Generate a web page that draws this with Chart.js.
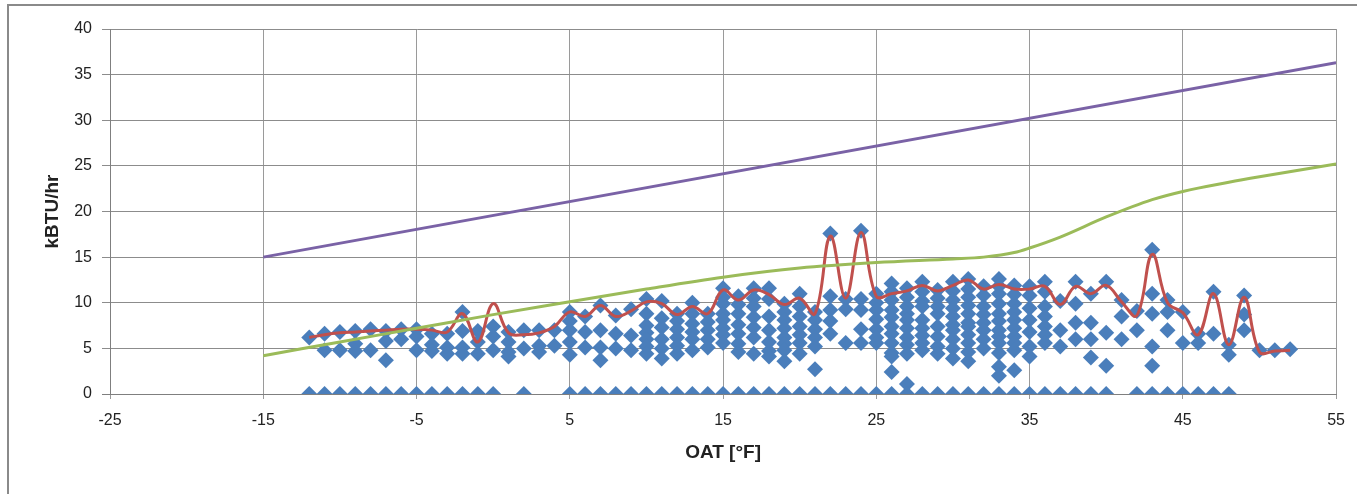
<!DOCTYPE html>
<html>
<head>
<meta charset="utf-8">
<script src="https://cdn.jsdelivr.net/npm/chart.js@4"></script>
<style>
    html, body { margin: 0; padding: 0; background: #ffffff; overflow: hidden; }
    #wrap { position: relative; width: 1357px; height: 494px; }
    #frame { position: absolute; left: 7px; top: 4px; width: 1400px; height: 600px;
             border-left: 2px solid #8a8a8a; border-top: 2px solid #8a8a8a; pointer-events: none; }
</style>
</head>
<body>
<div id="wrap">
    <canvas id="idChartLoad" width="1357" height="494"></canvas>
    <div id="frame"></div>
</div>
<script>
// measured points, one column of loads per outdoor temperature
const aColOat = [-12, -11, -10, -9, -8, -7, -6, -5, -4, -3, -2, -1, 0, 1, 2, 3, 4, 5, 6, 7, 8, 9, 10,
    11, 12, 13, 14, 15, 16, 17, 18, 19, 20, 21, 22, 23, 24, 25, 26, 27, 28, 29, 30, 31, 32, 33, 34,
    35, 36, 37, 38, 39, 40, 41, 42, 43, 44, 45, 46, 47, 48, 49, 50, 51, 52];
const aColLoads = [
    [6.2], [6.6, 4.8], [6.8, 4.8], [6.9, 5.5, 4.7], [7.1, 4.8], [6.9, 5.8, 3.7], [7.1, 6.0],
    [7.1, 6.3, 4.8], [6.6, 5.4, 4.7], [6.6, 5.1, 4.4], [9.0, 6.9, 5.1, 4.4], [6.9, 5.7, 4.4],
    [7.4, 6.3, 4.8], [6.8, 5.7, 4.6, 4.1], [7.0, 5.0], [7.0, 5.3, 4.6], [7.0, 5.3],
    [9.0, 8.0, 7.0, 5.7, 4.3], [8.5, 6.8, 5.1], [9.7, 7.0, 5.1, 3.7], [8.6, 6.6, 5.0],
    [9.3, 6.4, 4.8], [10.4, 8.8, 7.5, 6.7, 6.0, 5.2, 4.4], [10.2, 8.3, 7.3, 6.0, 5.0, 3.9],
    [8.8, 8.0, 7.1, 6.2, 5.3, 4.4], [10.0, 8.8, 7.7, 6.8, 6.0, 4.8], [8.8, 7.9, 7.0, 6.0, 5.1],
    [11.6, 10.6, 9.9, 8.8, 8.1, 7.2, 6.5, 5.6], [10.7, 9.8, 8.8, 7.6, 6.6, 5.5, 4.6],
    [11.6, 10.5, 9.6, 8.4, 7.3, 6.2, 4.4], [11.6, 10.4, 8.5, 7.0, 5.7, 4.7, 4.1],
    [9.9, 9.0, 8.1, 7.2, 6.2, 5.5, 4.8, 3.6], [11.0, 9.6, 8.5, 7.4, 6.5, 5.6, 4.4],
    [9.0, 8.1, 7.1, 6.2, 5.2, 2.7], [17.6, 10.7, 9.2, 8.0, 6.6], [10.4, 9.3, 5.6],
    [17.9, 10.4, 9.2, 7.1, 5.6], [11.0, 10.0, 9.2, 8.2, 7.1, 6.2, 5.6],
    [12.1, 11.2, 10.3, 9.2, 8.4, 7.4, 6.6, 5.6, 4.5, 4.1, 2.4],
    [11.6, 10.6, 9.6, 8.8, 8.1, 7.2, 6.2, 5.4, 4.4, 1.1],
    [12.3, 11.2, 10.2, 9.6, 8.1, 7.2, 6.4, 5.6, 4.8],
    [11.4, 10.5, 9.6, 8.8, 7.4, 6.3, 5.2, 4.4],
    [12.3, 11.3, 10.3, 9.4, 8.5, 7.6, 7.0, 6.0, 5.0, 3.9],
    [12.6, 11.5, 10.6, 9.7, 8.8, 7.8, 7.4, 6.5, 5.6, 4.6, 3.6],
    [11.8, 10.8, 9.6, 8.7, 7.8, 7.0, 6.0, 5.0],
    [12.6, 11.8, 11.0, 9.9, 8.8, 8.0, 7.0, 6.3, 5.6, 4.5, 3.0, 2.0],
    [11.9, 10.9, 9.9, 9.0, 8.1, 7.2, 6.3, 5.6, 4.8, 2.6],
    [11.8, 10.8, 9.4, 8.1, 6.8, 5.2, 4.1], [12.3, 11.2, 9.6, 8.5, 7.4, 6.5, 5.6],
    [10.2, 7.0, 5.2], [12.3, 9.9, 7.8, 6.0], [11.0, 7.8, 6.0, 4.0], [12.3, 6.7, 3.1],
    [10.3, 8.5, 6.0], [9.1, 7.0], [15.8, 11.0, 8.8, 5.2, 3.1], [10.3, 9.0, 7.0], [9.0, 5.6],
    [6.6, 5.6], [11.2, 6.6], [5.4, 4.3], [10.8, 8.7, 7.0], [4.8], [4.8], [4.9]
];
// temperatures with hours at zero load
const aZeroOat = [-12, -11, -10, -9, -8, -7, -6, -5, -4, -3, -2, -1, 0, 2, 5, 6, 7, 8, 9, 10, 11,
    12, 13, 14, 15, 16, 17, 18, 19, 20, 21, 22, 23, 24, 25, 26, 27, 28, 29, 30, 31, 32, 33, 34, 35,
    36, 37, 38, 39, 40, 42, 43, 44, 45, 46, 47, 48];

// red line: peak load per temperature
const aPeakOat = aColOat;
const aPeakLoad = [6.2, 6.5, 6.7, 6.8, 6.9, 7.0, 7.1, 7.1, 7.0, 6.8, 8.8, 5.7, 9.9, 6.7, 6.5, 6.7,
    7.4, 9.0, 8.5, 9.7, 8.5, 9.1, 10.1, 9.9, 8.7, 9.6, 8.8, 11.4, 10.3, 11.4, 10.9, 9.8, 10.5, 8.8,
    17.3, 10.5, 17.7, 10.7, 11.0, 11.3, 11.9, 11.3, 11.9, 12.5, 11.5, 12.0, 11.5, 11.5, 11.8, 9.8,
    11.8, 11.0, 11.9, 10.1, 8.6, 15.3, 10.0, 8.9, 6.5, 11.0, 5.4, 10.6, 4.6, 4.7, 4.8];

// green curve
const aGreenOat = [-15, -10, -5, 0, 5, 10, 15, 20, 25, 30, 32, 34, 35, 37, 40, 43, 45, 48, 50, 55];
const aGreenLoad = [4.2, 5.7, 7.2, 8.7, 10.1, 11.5, 12.8, 13.8, 14.4, 14.8, 15.0, 15.5, 16.0,
    17.2, 19.4, 21.3, 22.2, 23.2, 23.8, 25.2];

// purple line
const aPurpleOat = [-15, 55];
const aPurpleLoad = [15.0, 36.3];

const sFont = '"Liberation Sans", Arial, sans-serif';

function toPoints(aX, aY) {
    var aData = [];
    for (var i = 0; i < aX.length; i++) {
        aData.push({ x: aX[i], y: aY[i] });
    }
    return aData;
}

var aScatter = [];
for (var i = 0; i < aColOat.length; i++) {
    for (var j = 0; j < aColLoads[i].length; j++) {
        aScatter.push({ x: aColOat[i], y: aColLoads[i][j] });
    }
}
for (var k = 0; k < aZeroOat.length; k++) {
    aScatter.push({ x: aZeroOat[k], y: 0 });
}

const data = {
    datasets: [{
        label: 'Purple',
        data: toPoints(aPurpleOat, aPurpleLoad),
        showLine: true,
        borderColor: '#7a62a6',
        borderWidth: 3,
        pointRadius: 0,
        order: 1
    }, {
        label: 'Green',
        data: toPoints(aGreenOat, aGreenLoad),
        showLine: true,
        borderColor: '#9bbb59',
        borderWidth: 3,
        pointRadius: 0,
        cubicInterpolationMode: 'monotone',
        order: 2
    }, {
        label: 'Peak',
        data: toPoints(aPeakOat, aPeakLoad),
        showLine: true,
        borderColor: '#c0504d',
        borderWidth: 3,
        pointRadius: 0,
        tension: 0.4,
        order: 3
    }, {
        label: 'Measured',
        data: aScatter,
        showLine: false,
        pointStyle: 'rectRot',
        pointRadius: 8,
        backgroundColor: '#4a7ebb',
        borderColor: '#4a7ebb',
        borderWidth: 0,
        order: 4
    }]
};

const config = {
    type: 'scatter',
    data: data,
    options: {
        responsive: false,
        animation: false,
        layout: {
            padding: { left: 0, right: 20, top: 29, bottom: 0 }
        },
        plugins: {
            legend: { display: false },
            tooltip: { enabled: false }
        },
        scales: {
            x: {
                type: 'linear',
                min: -25,
                max: 55,
                afterFit: function (oScale) { oScale.height = 100; },
                ticks: {
                    stepSize: 10,
                    padding: 12,
                    color: '#222222',
                    font: { family: sFont, size: 16 }
                },
                grid: {
                    color: '#9a9a9a',
                    lineWidth: 1,
                    tickLength: 5
                },
                border: { color: '#7f7f7f', width: 1 },
                title: {
                    display: true,
                    text: 'OAT [°F]',
                    color: '#222222',
                    font: { family: sFont, size: 19, weight: 'bold' },
                    padding: { top: 0, bottom: 30 }
                }
            },
            y: {
                type: 'linear',
                min: 0,
                max: 40,
                afterFit: function (oScale) { oScale.width = 110; },
                ticks: {
                    stepSize: 5,
                    padding: 10,
                    color: '#222222',
                    font: { family: sFont, size: 16 }
                },
                grid: {
                    color: function (ctx) { return ctx.tick && ctx.tick.value === 0 ? '#7f7f7f' : '#8c8c8c'; },
                    lineWidth: 1,
                    tickLength: 8
                },
                border: { color: '#7f7f7f', width: 1 },
                title: {
                    display: true,
                    text: 'kBTU/hr',
                    color: '#222222',
                    font: { family: sFont, size: 19, weight: 'bold' },
                    padding: { top: 41, bottom: 0 }
                }
            }
        }
    }
};

const oChartLoad = new Chart(
    document.getElementById('idChartLoad'),
    config
);
</script>
</body>
</html>
